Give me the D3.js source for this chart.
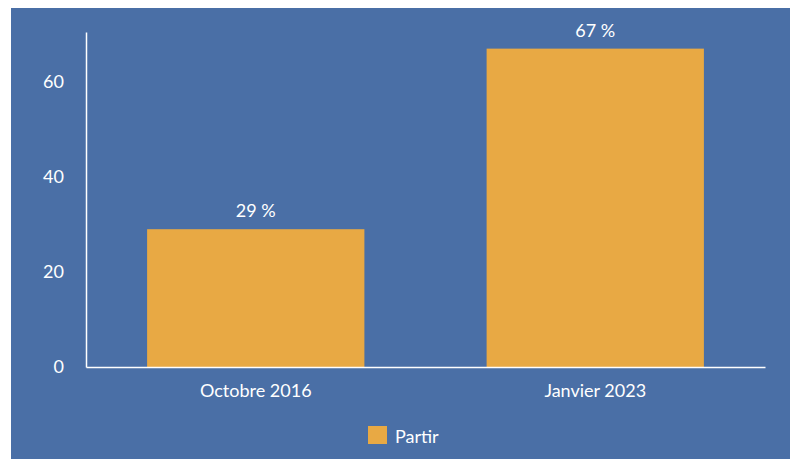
<!DOCTYPE html>
<html><head><meta charset="utf-8">
<script src="https://cdn.jsdelivr.net/npm/d3@7"></script>
<style>html,body{margin:0;padding:0;background:#fff;}svg{display:block;}</style>
</head><body><svg id="c" width="796" height="459"></svg>
<script>
const categories = ["Octobre 2016", "Janvier 2023"];
const values = [29, 67];
const valueLabels = ["29 %", "67 %"];
const yTicks = [0, 20, 40, 60];
const seriesName = "Partir";

const W = 796, H = 459;
const svg = d3.select("#c");
const font = "Lato, 'Open Sans', sans-serif";
svg.append("rect").attr("x", 11).attr("y", 8).attr("width", 779).attr("height", 451).attr("fill", "#4a6fa6");

const m = {l: 86, r: 765, t: 32, b: 367};
const x = d3.scaleBand().domain(categories).range([m.l, m.r]).paddingInner(0.36).paddingOuter(0.18);
const y = d3.scaleLinear().domain([0, 70.5]).range([m.b, m.t]);

svg.selectAll("rect.bar").data(values).enter().append("rect").attr("class", "bar")
  .attr("x", (d, i) => x(categories[i])).attr("width", x.bandwidth())
  .attr("y", d => y(d)).attr("height", d => y(0) - y(d))
  .attr("fill", "#e8a944");

svg.selectAll("text.val").data(values).enter().append("text").attr("class", "val")
  .attr("x", (d, i) => x(categories[i]) + x.bandwidth() / 2).attr("y", d => y(d) - 12)
  .attr("text-anchor", "middle").attr("fill", "#fff").attr("font-family", font).attr("font-size", 18)
  .text((d, i) => valueLabels[i]);

const ya = svg.append("g").attr("transform", `translate(${m.l},0)`)
  .call(d3.axisLeft(y).tickValues(yTicks).tickSize(0).tickPadding(22));
ya.select(".domain").attr("stroke", "#fff").attr("stroke-width", 1.5);
ya.selectAll("text").attr("fill", "#fff").attr("font-family", font).attr("font-size", 18);

const xa = svg.append("g").attr("transform", `translate(0,${m.b})`)
  .call(d3.axisBottom(x).tickSize(0).tickPadding(17));
xa.select(".domain").attr("stroke", "#fff").attr("stroke-width", 1.5);
xa.selectAll("text").attr("fill", "#fff").attr("font-family", font).attr("font-size", 18);

const lg = svg.append("g");
lg.append("rect").attr("x", 368).attr("y", 426).attr("width", 19).attr("height", 18).attr("fill", "#e8a944");
lg.append("text").attr("x", 395).attr("y", 443).attr("fill", "#fff").attr("font-family", font).attr("font-size", 18).text(seriesName);
</script></body></html>
